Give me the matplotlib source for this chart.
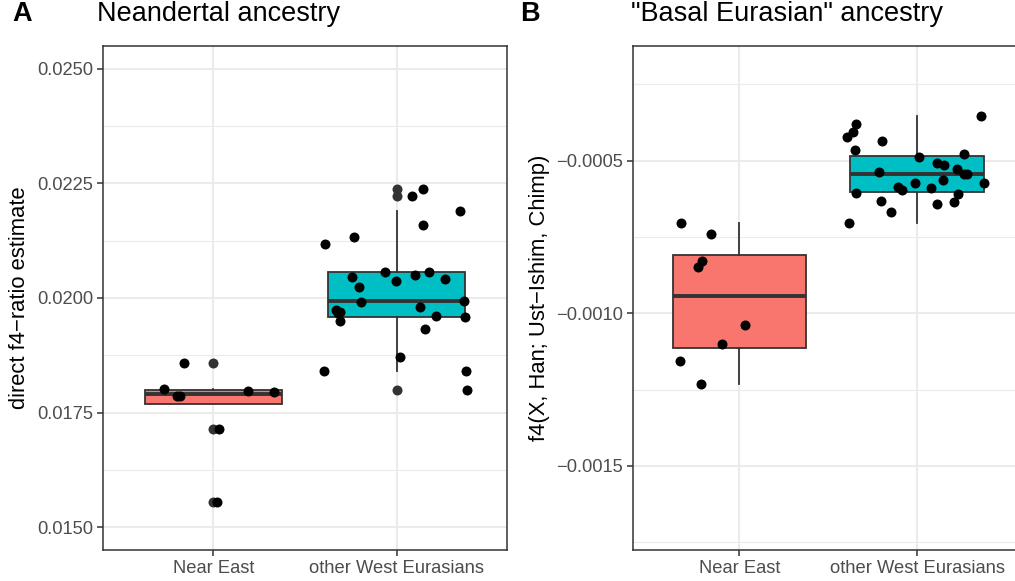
import matplotlib
matplotlib.use("Agg")
import matplotlib.pyplot as plt
from matplotlib.ticker import FixedLocator, FuncFormatter

plt.rcParams['font.family'] = ['Liberation Sans', 'DejaVu Sans']

# categories and colours
groups = ["Near East", "other West Eurasians"]
fills = ["#F8766D", "#00BFC4"]

# panel A: Neandertal ancestry (direct f4-ratio estimate)
ne_neand = [0.01859, 0.01801, 0.01786, 0.01786, 0.01798, 0.01794, 0.01713, 0.01555]
ne_neand_jit = [-0.16, -0.27, -0.20, -0.18, 0.19, 0.33, 0.03, 0.02]
we_neand = [0.02238, 0.02222, 0.02189, 0.02160, 0.02133, 0.02118, 0.02057, 0.02057,
            0.02050, 0.02046, 0.02041, 0.02037, 0.02025, 0.01994, 0.01991, 0.01980,
            0.01974, 0.01969, 0.01967, 0.01961, 0.01958, 0.01950, 0.01932, 0.01872,
            0.01840, 0.01840, 0.01799]
we_neand_jit = [0.145, 0.083, 0.344, 0.145, -0.235, -0.391, -0.064, 0.179,
                0.098, -0.246, 0.265, -0.002, -0.207, 0.368, -0.196, 0.13,
                -0.333, -0.311, -0.32, 0.217, 0.373, -0.308, 0.154, 0.018,
                -0.397, 0.379, 0.386]

# panel B: "Basal Eurasian" ancestry, f4(X, Han; Ust-Ishim, Chimp)
ne_basal = [-0.000706, -0.000741, -0.000830, -0.000850, -0.001040, -0.001102,
            -0.001155, -0.001232]
ne_basal_jit = [-0.33, -0.157, -0.212, -0.232, 0.034, -0.096, -0.336, -0.214]
we_basal = [-0.000355, -0.000379, -0.000405, -0.000423, -0.000436, -0.000465,
            -0.000480, -0.000487, -0.000509, -0.000516, -0.000527, -0.000536,
            -0.000543, -0.000545, -0.000565, -0.000572, -0.000574, -0.000586,
            -0.000591, -0.000598, -0.000606, -0.000611, -0.000632, -0.000637,
            -0.000643, -0.000670, -0.000705]
we_basal_jit = [0.36, -0.341, -0.362, -0.396, -0.199, -0.347, 0.264, 0.009,
                0.11, 0.15, 0.225, -0.212, 0.283, 0.262, 0.148, -0.013,
                0.375, -0.109, 0.076, -0.083, -0.341, 0.228, -0.205, 0.208,
                0.112, -0.148, -0.381]

W, H = 1015, 581
GREY20 = "#333333"


def px_axes(fig, left, right, top, bottom):
    return fig.add_axes([left / W, 1 - bottom / H, (right - left) / W, (bottom - top) / H])


def draw_panel(ax, data, jitter, ylim, major, minor, fmt):
    pos = [1, 2]
    ax.set_facecolor("white")

    bp = ax.boxplot(data, positions=pos, widths=0.75, patch_artist=True,
                    showcaps=False, whis=1.5, manage_ticks=False,
                    boxprops=dict(edgecolor=GREY20, linewidth=1.3),
                    whiskerprops=dict(color=GREY20, linewidth=1.3),
                    medianprops=dict(color=GREY20, linewidth=2.8, solid_capstyle="butt"),
                    flierprops=dict(marker="o", markerfacecolor=GREY20,
                                    markeredgecolor="none", markersize=7.2),
                    zorder=2)
    for patch, c in zip(bp["boxes"], fills):
        patch.set_facecolor(c)

    for p, vals, jit in zip(pos, data, jitter):
        xs = [p + j for j in jit]
        ax.plot(xs, vals, "o", color="black", markersize=7.2, markeredgewidth=0, zorder=3)

    ax.set_xlim(0.4, 2.6)
    ax.set_ylim(*ylim)
    ax.yaxis.set_major_locator(FixedLocator(major))
    ax.yaxis.set_minor_locator(FixedLocator(minor))
    ax.yaxis.set_major_formatter(FuncFormatter(fmt))
    ax.set_xticks(pos)
    ax.set_xticklabels(groups)

    ax.grid(True, which="major", color="#EBEBEB", linewidth=1.5, zorder=0)
    ax.grid(True, which="minor", axis="y", color="#EBEBEB", linewidth=0.8, zorder=0)
    ax.set_axisbelow(True)

    for s in ax.spines.values():
        s.set_color(GREY20)
        s.set_linewidth(1.1)
    ax.tick_params(axis="both", which="major", length=4.1, width=1.1, color=GREY20,
                   labelsize=13.2, labelcolor="#4D4D4D", pad=3.3)
    ax.tick_params(axis="y", which="minor", length=0)


fig = plt.figure(figsize=(W / 100, H / 100), dpi=100)
fig.patch.set_facecolor("white")

ax1 = px_axes(fig, 103.3, 506.6, 46, 550)
draw_panel(ax1, [ne_neand, we_neand], [ne_neand_jit, we_neand_jit],
           (0.0145, 0.0255),
           [0.0150, 0.0175, 0.0200, 0.0225, 0.0250],
           [0.01625, 0.01875, 0.02125, 0.02375],
           lambda v, _: f"{v:.4f}")

ax2 = px_axes(fig, 632.8, 1023.6, 46, 550)
draw_panel(ax2, [ne_basal, we_basal], [ne_basal_jit, we_basal_jit],
           (-0.001775, -0.000125),
           [-0.0015, -0.0010, -0.0005],
           [-0.00175, -0.00125, -0.00075, -0.00025],
           lambda v, _: f"{v:.4f}".replace("-", "\u2212"))

# titles, tags and axis titles
base = 1 - 20.7 / H
fig.text(12 / W, base, "A", fontsize=19.5, fontweight="bold", va="baseline")
fig.text(97 / W, base, "Neandertal ancestry", fontsize=19.5, va="baseline")
fig.text(520 / W, base, "B", fontsize=19.5, fontweight="bold", va="baseline")
fig.text(631 / W, base, "\"Basal Eurasian\" ancestry", fontsize=19.5, va="baseline")

fig.text(20 / W, 1 - 298 / H, "direct f4\u2212ratio estimate", fontsize=15.8,
         rotation=90, ha="center", va="center")
fig.text(540 / W, 1 - 298 / H, "f4(X, Han; Ust\u2212Ishim, Chimp)", fontsize=15.8,
         rotation=90, ha="center", va="center")

fig.savefig("out.png", dpi=100, facecolor="white")
